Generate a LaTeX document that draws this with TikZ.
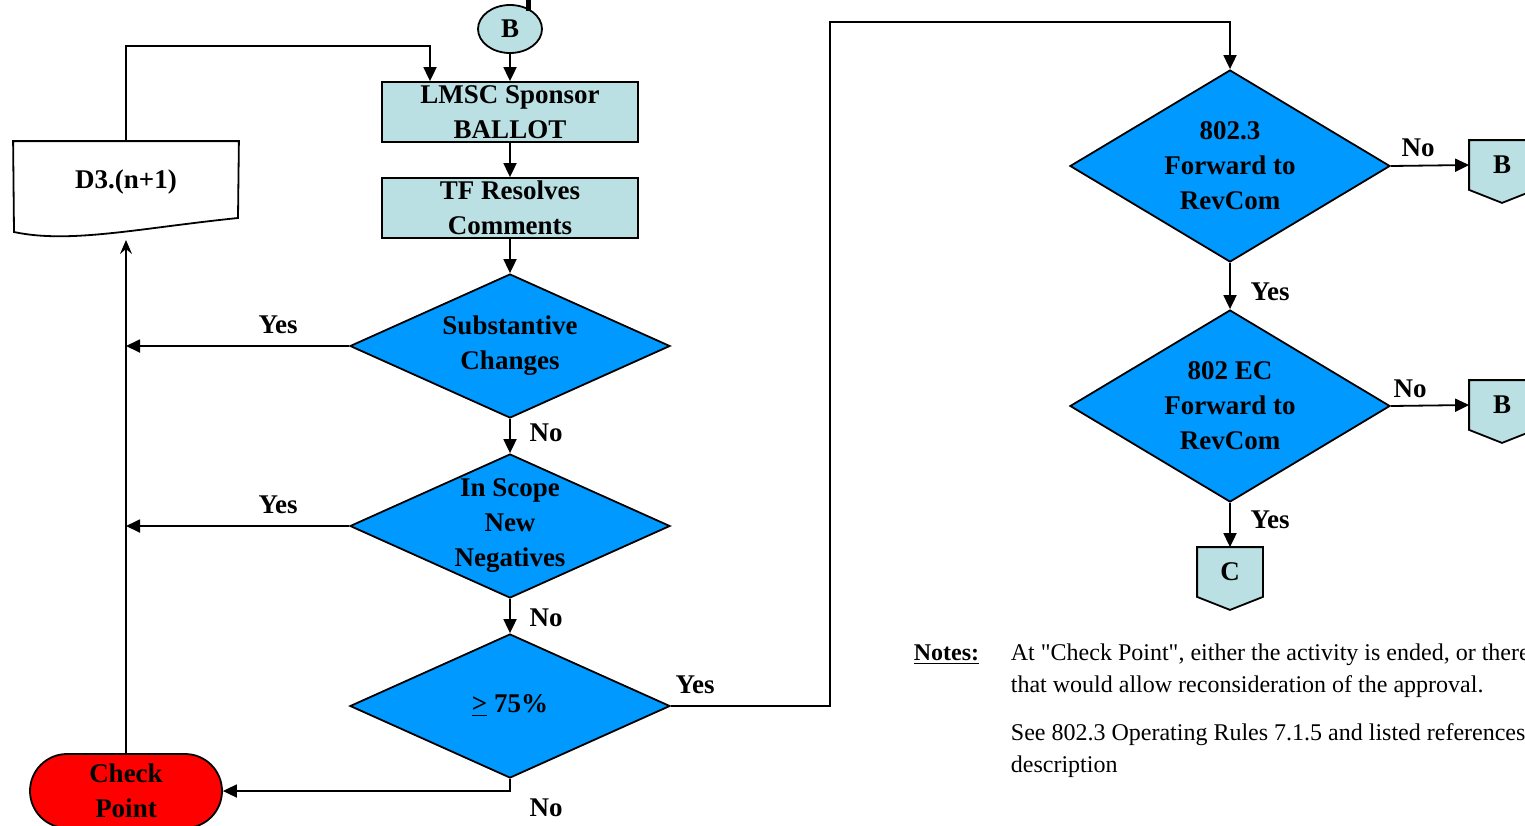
\documentclass[tikz,border=0pt]{standalone}
\usepackage{fontspec}
\setmainfont{Liberation Serif}
\usetikzlibrary{shapes.geometric,shapes.misc,arrows.meta,backgrounds}
\definecolor{boxcyan}{RGB}{187,224,227}
\definecolor{decblue}{RGB}{0,153,255}
\definecolor{termred}{RGB}{255,0,0}
\tikzset{
  every node/.style={font=\bfseries\fontsize{13.5}{17.5}\selectfont},
  proc/.style={draw, fill=boxcyan, rectangle, minimum width=128pt, minimum height=30pt, inner sep=0pt},
  decision/.style={draw, fill=decblue, diamond, minimum width=160pt, minimum height=72pt, inner sep=0pt},
  tall/.style={minimum height=96pt},
  term/.style={draw, fill=termred, rounded rectangle, minimum width=96pt, minimum height=37pt, inner sep=0pt},
  conncirc/.style={draw, fill=boxcyan, ellipse, minimum width=32pt, minimum height=24pt, inner sep=0pt},
  offpage/.style={rectangle, minimum width=32pt, minimum height=24pt, inner sep=0pt},
  docbox/.style={rectangle, minimum width=112pt, minimum height=40pt, inner sep=0pt},
  outline/.style={draw, line width=0.9pt},
  flow/.style={-{Triangle[length=7pt,width=6.5pt]}},
  backflow/.style={-{Stealth[length=7pt,width=6pt,inset=2.5pt]}},
  notetext/.style={font=\fontsize{12}{16}\selectfont, align=left, anchor=base west, inner sep=0pt},
}
\begin{document}
\begin{tikzpicture}[x=0.5pt,y=-0.5pt,line width=0.9pt]
\useasboundingbox (0,0) rectangle (1525,825);
\clip (0,0) rectangle (1525,825);
% left column
\node[conncirc] (bcirc) at (510,29) {B};
\node[proc, label={[align=center]center:LMSC Sponsor\\BALLOT}] (lmsc) at (510,112) {};
\node[proc, label={[align=center]center:TF Resolves\\Comments}] (tf) at (510,208) {};
\node[decision, label={[align=center]center:Substantive\\Changes}] (subst) at (510,346) {};
\node[decision, label={[align=center]center:In Scope\\New\\Negatives}] (scope) at (510,526) {};
\node[decision, label={center:\underline{>}~75\%}] (pct) at (510,706) {};
\node[term, align=center] (check) at (126,791) {Check\\Point};
\node[docbox] (doc) at (126,182) {D3.(n+1)};
% right column
\node[decision, tall, label={[align=center]center:802.3\\Forward to\\RevCom}] (fwd1) at (1230,166) {};
\node[decision, tall, label={[align=center]center:802 EC\\Forward to\\RevCom}] (fwd2) at (1230,406) {};
\node[offpage] (ob1) at (1502,165) {B};
\node[offpage] (ob2) at (1502,405) {B};
\node[offpage] (oc) at (1230,572) {C};
\begin{scope}[on background layer]
\foreach \p in {ob1,ob2,oc}
  \path[outline, fill=boxcyan] (\p.north west) -- (\p.north east) -- (\p.south east)
    -- ([yshift=-6.5pt]\p.south) -- (\p.south west) -- cycle;
\path[outline, fill=white] (doc.north west) -- (doc.north east) -- (238,218)
  .. controls (140,228) and (70,244) .. (14,232) -- cycle;
\end{scope}
% notes
\node[notetext, font=\bfseries\fontsize{12}{16}\selectfont] (notes) at (913,660) {\underline{Notes:}};
\node[notetext] (note1) at (1010,692) {At \textquotedbl Check Point\textquotedbl, either the activity is ended, or there\\that would allow reconsideration of the approval.};
\node[notetext] (note2) at (1010,772) {See 802.3 Operating Rules 7.1.5 and listed references\\description};
% connectors
\coordinate (stubtop) at (528,0);
\coordinate (stubend) at (528,11);
\coordinate (loop) at (126,46);
\coordinate (docfoot) at (126,240);
\coordinate (up1) at (830,22);
\draw[line width=2.5pt] (stubtop) -- (stubend);
\draw[flow] (bcirc) -- (lmsc);
\draw[flow] (doc.north) -- (loop) -| ([xshift=-40pt]lmsc.north);
\draw[flow] (lmsc) -- (tf);
\draw[flow] (tf) -- (subst);
\draw[flow] (subst.west) -- (subst.west -| check.north);
\draw[flow] (subst) -- (scope);
\draw[flow] (scope.west) -- (scope.west -| check.north);
\draw[flow] (scope) -- (pct);
\draw[flow] (pct.south) |- (check.east);
\draw[backflow] (check.north) -- (docfoot);
\draw[flow] (pct.east) -| (up1) -| (fwd1.north);
\draw[flow] (fwd1.east) -- (ob1.west);
\draw[flow] (fwd1) -- (fwd2);
\draw[flow] (fwd2.east) -- (ob2.west);
\draw[flow] (fwd2) -- (oc);
% branch labels
\node (yes1) at (278,325) {Yes};
\node (yes2) at (278,505) {Yes};
\node (no1) at (546,433) {No};
\node (no2) at (546,618) {No};
\node (no3) at (546,808) {No};
\node (yes3) at (695,685) {Yes};
\node (no4) at (1418,148) {No};
\node (yes4) at (1270,292) {Yes};
\node (no5) at (1410,389) {No};
\node (yes5) at (1270,520) {Yes};
\end{tikzpicture}
\end{document}
